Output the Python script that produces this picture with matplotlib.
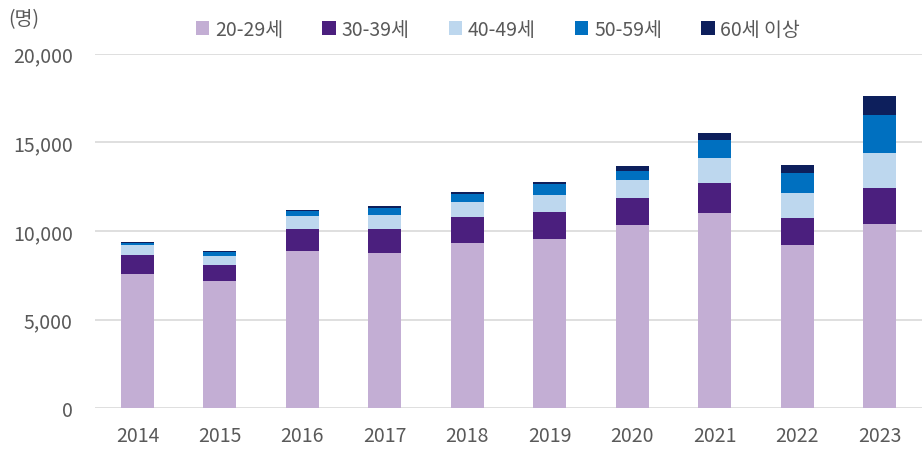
import matplotlib
matplotlib.use("Agg")
import matplotlib.pyplot as plt
import numpy as np

plt.rcParams['font.family'] = ['Noto Sans CJK KR', 'DejaVu Sans']

years = ["2014", "2015", "2016", "2017", "2018", "2019", "2020", "2021", "2022", "2023"]
age_20_29 = [7560, 7160, 8890, 8780, 9320, 9570, 10355, 11015, 9210, 10410]
age_30_39 = [1070, 920, 1230, 1340, 1440, 1490, 1490, 1690, 1540, 2015]
age_40_49 = [560, 525, 715, 790, 890, 995, 1050, 1410, 1393, 1990]
age_50_59 = [120, 200, 280, 390, 455, 600, 510, 1015, 1127, 2145]
age_60_up = [60, 60, 75, 95, 95, 95, 245, 380, 470, 1035]

series_labels = ["20-29세", "30-39세", "40-49세", "50-59세", "60세 이상"]
series = [age_20_29, age_30_39, age_40_49, age_50_59, age_60_up]
colors = ["#C3AED4", "#4B1F7E", "#BDD7EE", "#0070C0", "#0D1F5C"]

yticks = [0, 5000, 10000, 15000, 20000]
ytick_labels = ["0", "5,000", "10,000", "15,000", "20,000"]

fig = plt.figure(figsize=(9.24, 4.52), dpi=100)
ax = fig.add_axes([95/924, (452-409.3)/452, (922-95)/924, (409.3-54.6)/452])

x = np.arange(len(years))
bottom = np.zeros(len(years))
handles = []
for vals, lab, c in zip(series, series_labels, colors):
    h = ax.bar(x, vals, width=0.4, bottom=bottom, color=c, label=lab, zorder=3)
    handles.append(h)
    bottom += np.array(vals)

ax.set_ylim(0, 20000)
ax.set_xlim(-0.515, len(years) - 0.485)
ax.set_yticks(yticks)
ax.set_yticklabels(ytick_labels)
ax.set_xticks(x)
ax.set_xticklabels(years)
ax.yaxis.grid(True, color="#D9D9D9", linewidth=1.2, zorder=0)
ax.set_axisbelow(True)
for s in ax.spines.values():
    s.set_visible(False)
ax.tick_params(axis='both', length=0, labelsize=14, colors="#595959")
ax.tick_params(axis='y', pad=16)
ax.tick_params(axis='x', pad=12)

fig.text(8/924, 1 - 20/452, "(명)", fontsize=14, color="#595959", va="center", ha="left")

leg = fig.legend(handles=handles, labels=series_labels, loc="center", bbox_to_anchor=(498/924, 1 - 30/452),
                 ncol=5, frameon=False, fontsize=14, handlelength=0.7, handleheight=0.7,
                 handletextpad=0.3, columnspacing=2.0, labelcolor="#595959")

fig.savefig("out.png", dpi=100)
